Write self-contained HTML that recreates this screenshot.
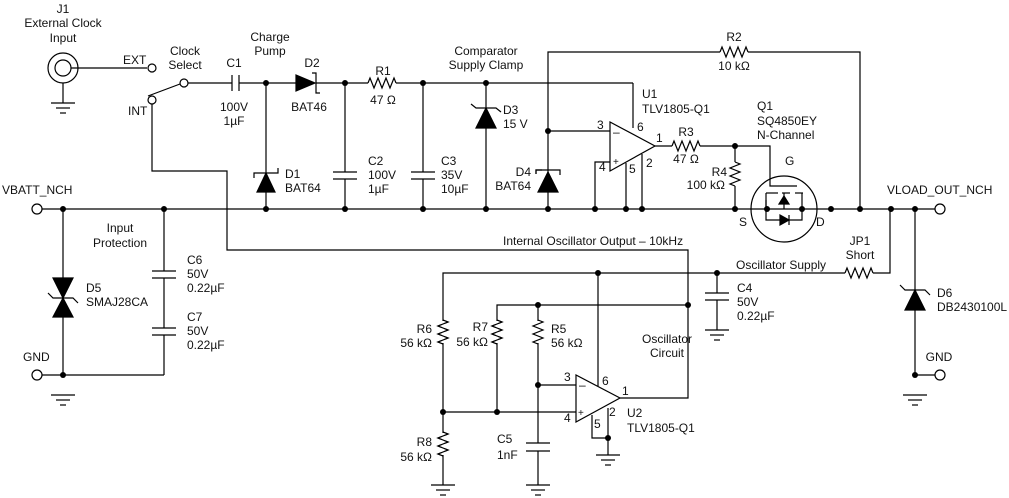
<!DOCTYPE html>
<html><head><meta charset="utf-8"><style>
html,body{margin:0;padding:0;background:#fff}
svg{display:block}
text{font-family:"Liberation Sans",Arial,sans-serif;font-size:12px;fill:#111}
.m{text-anchor:middle}.e{text-anchor:end}
</style></head><body>
<svg width="1009" height="498" viewBox="0 0 1009 498" xmlns="http://www.w3.org/2000/svg">
<defs>
<g id="gnd" stroke="#000" stroke-width="1.2"><line x1="-12" y1="0" x2="12" y2="0"/><line x1="-7" y1="5" x2="7" y2="5"/><line x1="-3" y1="10" x2="3" y2="10"/></g>
</defs>
<g stroke="#000" stroke-width="1.2" fill="none">
<!-- main bus -->
<line x1="42" y1="209" x2="935" y2="209"/>
<circle cx="37" cy="209" r="5" fill="#fff"/>
<circle cx="940" cy="209" r="5" fill="#fff"/>
<!-- J1 -->
<circle cx="63" cy="68" r="15"/><circle cx="63" cy="68" r="8"/>
<line x1="71" y1="68" x2="147" y2="68"/>
<circle cx="152" cy="68" r="4" fill="#fff"/>
<line x1="63" y1="83" x2="63" y2="103"/>
<!-- switch -->
<circle cx="152" cy="100" r="4" fill="#fff"/>
<circle cx="184" cy="83" r="4" fill="#fff"/>
<line x1="148" y1="96" x2="180" y2="84"/>
<!-- top line -->
<line x1="188" y1="83" x2="232" y2="83"/>
<line x1="232" y1="75" x2="232" y2="91"/><line x1="239" y1="75" x2="239" y2="91"/>
<line x1="239" y1="83" x2="296" y2="83"/>
<line x1="316" y1="83" x2="368" y2="83"/>
<polyline points="368,83 370,78 374,88 378,78 382,88 386,78 390,88 394,78 396,83"/>
<line x1="396" y1="83" x2="633" y2="83"/>
<line x1="633" y1="83" x2="633" y2="128"/>
<!-- D2 -->
<polygon points="296,75 296,91 315,83" fill="#000"/>
<polyline points="312,73 316,73 316,93 320,93"/>
<!-- D1 -->
<line x1="266" y1="83" x2="266" y2="209"/>
<polygon points="257,192 275,192 266,173" fill="#000"/>
<polyline points="254,178 254,173 278,173 278,168"/>
<!-- C2 C3 -->
<line x1="345" y1="83" x2="345" y2="172"/><line x1="345" y1="179" x2="345" y2="209"/>
<line x1="333" y1="172" x2="357" y2="172"/><line x1="333" y1="179" x2="357" y2="179"/>
<line x1="423" y1="83" x2="423" y2="172"/><line x1="423" y1="179" x2="423" y2="209"/>
<line x1="411" y1="172" x2="435" y2="172"/><line x1="411" y1="179" x2="435" y2="179"/>
<!-- D3 -->
<line x1="486" y1="83" x2="486" y2="209"/>
<polygon points="476,128 496,128 486,108" fill="#000"/>
<polyline points="471,104 476,108 496,108 501,112"/>
<!-- R2 / D4 -->
<polyline points="548,209 548,52 720,52"/>
<polyline points="720,52 722,47 726,57 730,47 734,57 738,47 742,57 746,47 748,52"/>
<polyline points="748,52 860,52 860,209"/>
<line x1="548" y1="131" x2="610" y2="131"/>
<polygon points="538,192 558,192 548,172" fill="#000"/>
<polyline points="536,174 536,170 542,170 M0,0"/>
<polyline points="536,174 536,170 548,170 560,170 560,175"/>
<!-- U1 -->
<polygon points="610,122 610,171 655,146"/>
<polyline points="610,162 595,162 595,209"/>
<line x1="626" y1="163" x2="626" y2="209"/>
<line x1="642" y1="154" x2="642" y2="209"/>
<line x1="655" y1="146" x2="672" y2="146"/>
<polyline points="672,146 674,141 678,151 682,141 686,151 690,141 694,151 698,141 700,146"/>
<polyline points="700,146 770,146 770,186 797,186"/>
<line x1="735" y1="146" x2="735" y2="162"/>
<polyline points="735,162 740,164 730,168 740,172 730,176 740,180 730,184 735,186"/>
<line x1="735" y1="186" x2="735" y2="209"/>
<!-- Q1 -->
<circle cx="784" cy="209" r="33"/>
<polyline points="766,209 766,200 m0,0"/>
<line x1="766" y1="193" x2="766" y2="209"/>
<line x1="766" y1="193" x2="778" y2="193"/><line x1="782" y1="193" x2="790" y2="193"/><line x1="795" y1="193" x2="803" y2="193"/>
<line x1="802" y1="193" x2="802" y2="209"/>
<line x1="784" y1="193" x2="784" y2="209"/>
<polygon points="779,204 789,204 784,196" fill="#000"/>
<polyline points="766,209 766,220 802,220 802,209"/>
<polygon points="780,215 780,225 789,220" fill="#000"/>
<line x1="789" y1="215" x2="789" y2="225"/>
<!-- osc output -->
<polyline points="152,104 152,171 227,171 227,250 688,250 688,398 620,398"/>
<!-- osc supply -->
<polyline points="443,412 443,273 845,273"/>
<polyline points="845,273 847,268 851,278 855,268 859,278 863,268 867,278 871,268 873,273"/>
<polyline points="873,273 890,273 890,209"/>
<!-- C4 -->
<line x1="717" y1="273" x2="717" y2="293"/><line x1="705" y1="293" x2="729" y2="293"/>
<line x1="705" y1="300" x2="729" y2="300"/><line x1="717" y1="300" x2="717" y2="330"/>
<!-- D6 -->
<line x1="915" y1="209" x2="915" y2="375"/>
<polygon points="905,310 925,310 915,290" fill="#000"/>
<polyline points="900,285 905,290 925,290 930,295"/>
<line x1="915" y1="375" x2="935" y2="375"/>
<circle cx="940" cy="375" r="5" fill="#fff"/>
<!-- D5 -->
<line x1="63" y1="209" x2="63" y2="375"/>
<polygon points="53,278 73,278 63,298" fill="#000"/>
<polygon points="53,317 73,317 63,298" fill="#000"/>
<polyline points="48,293 53,298 73,298 78,303"/>
<line x1="42" y1="375" x2="164" y2="375"/>
<circle cx="37" cy="375" r="5" fill="#fff"/>
<!-- C6 C7 -->
<line x1="164" y1="209" x2="164" y2="271"/>
<line x1="152" y1="271" x2="176" y2="271"/><line x1="152" y1="278" x2="176" y2="278"/>
<line x1="164" y1="278" x2="164" y2="328"/>
<line x1="152" y1="328" x2="176" y2="328"/><line x1="152" y1="335" x2="176" y2="335"/>
<line x1="164" y1="335" x2="164" y2="375"/>
<!-- U2 -->
<polygon points="576,375 576,422 620,398"/>
<line x1="598" y1="273" x2="598" y2="386"/>
<polyline points="592,415 592,438 608,438 608,455"/>
<line x1="608" y1="408" x2="608" y2="438"/>
<line x1="443" y1="412" x2="576" y2="412"/>
<line x1="538" y1="385" x2="576" y2="385"/>
<polyline points="497,412 497,305 688,305"/>
<!-- R6 -->
<polyline points="443,320 448,322 438,326 448,330 438,334 448,338 438,342 443,344"/>
<!-- R7 -->
<polyline points="497,320 502,322 492,326 502,330 492,334 502,338 492,342 497,344"/>
<!-- R5 -->
<line x1="538" y1="305" x2="538" y2="443"/>
<!-- R8 -->
<line x1="443" y1="412" x2="443" y2="485"/>
<polyline points="443,432 448,434 438,438 448,442 438,446 448,450 438,454 443,456"/>
<!-- C5 -->
<line x1="526" y1="443" x2="550" y2="443"/><line x1="526" y1="451" x2="550" y2="451"/>
<line x1="538" y1="451" x2="538" y2="485"/>
</g>
<!-- white cover for zigzag regions on straight lines -->
<g stroke="#fff" stroke-width="3"><line x1="443" y1="321" x2="443" y2="343"/><line x1="497" y1="321" x2="497" y2="343"/><line x1="538" y1="321" x2="538" y2="343"/><line x1="443" y1="433" x2="443" y2="455"/></g>
<g stroke="#000" stroke-width="1.2" fill="none">
<polyline points="443,320 448,322 438,326 448,330 438,334 448,338 438,342 443,344"/>
<polyline points="497,320 502,322 492,326 502,330 492,334 502,338 492,342 497,344"/>
<polyline points="538,320 543,322 533,326 543,330 533,334 543,338 533,342 538,344"/>
<polyline points="443,432 448,434 438,438 448,442 438,446 448,450 438,454 443,456"/>
</g>
<!-- grounds -->
<use href="#gnd" x="63" y="103"/>
<use href="#gnd" x="63" y="395"/>
<use href="#gnd" x="915" y="395"/>
<use href="#gnd" x="717" y="330"/>
<use href="#gnd" x="608" y="455"/>
<use href="#gnd" x="443" y="485"/>
<use href="#gnd" x="538" y="485"/>
<!-- dots -->
<g fill="#000">
<circle cx="63" cy="209" r="3"/><circle cx="164" cy="209" r="3"/><circle cx="266" cy="209" r="3"/><circle cx="345" cy="209" r="3"/><circle cx="423" cy="209" r="3"/><circle cx="486" cy="209" r="3"/><circle cx="548" cy="209" r="3"/><circle cx="595" cy="209" r="3"/><circle cx="626" cy="209" r="3"/><circle cx="642" cy="209" r="3"/><circle cx="735" cy="209" r="3"/><circle cx="767" cy="209" r="3"/><circle cx="802" cy="209" r="3"/><circle cx="831" cy="209" r="3"/><circle cx="860" cy="209" r="3"/><circle cx="891" cy="209" r="3"/><circle cx="915" cy="209" r="3"/>
<circle cx="266" cy="83" r="3"/><circle cx="345" cy="83" r="3"/><circle cx="423" cy="83" r="3"/><circle cx="486" cy="83" r="3"/>
<circle cx="548" cy="131" r="3"/><circle cx="735" cy="146" r="3"/>
<circle cx="598" cy="273" r="3"/><circle cx="717" cy="273" r="3"/><circle cx="538" cy="305" r="3"/><circle cx="688" cy="305" r="3"/>
<circle cx="538" cy="385" r="3"/><circle cx="443" cy="412" r="3"/><circle cx="497" cy="412" r="3"/><circle cx="608" cy="438" r="3"/>
<circle cx="63" cy="375" r="3"/><circle cx="915" cy="375" r="3"/>
</g>
<!-- labels -->
<text class="m" x="63" y="13">J1</text><text class="m" x="63" y="27">External Clock</text><text class="m" x="63" y="42">Input</text>
<text x="123" y="64">EXT</text><text x="128" y="115">INT</text>
<text class="m" x="185" y="55">Clock</text><text class="m" x="185" y="69">Select</text>
<text class="m" x="270" y="41">Charge</text><text class="m" x="270" y="55">Pump</text>
<text class="m" x="234" y="67">C1</text><text class="m" x="234" y="111">100V</text><text class="m" x="234" y="125">1µF</text>
<text class="m" x="312" y="67">D2</text><text class="m" x="309" y="111">BAT46</text>
<text class="m" x="383" y="75">R1</text><text class="m" x="383" y="104">47 Ω</text>
<text class="m" x="486" y="55">Comparator</text><text class="m" x="486" y="69">Supply Clamp</text>
<text x="503" y="114">D3</text><text x="503" y="128">15 V</text>
<text x="285" y="178">D1</text><text x="285" y="192">BAT64</text>
<text x="368" y="165">C2</text><text x="368" y="179">100V</text><text x="368" y="193">1µF</text>
<text x="441" y="165">C3</text><text x="441" y="179">35V</text><text x="441" y="193">10µF</text>
<text class="e" x="531" y="176">D4</text><text class="e" x="531" y="190">BAT64</text>
<text x="642" y="98">U1</text><text x="642" y="113">TLV1805-Q1</text>
<text class="m" x="734" y="41">R2</text><text class="m" x="734" y="70">10 kΩ</text>
<text x="597" y="129">3</text><text x="637" y="131">6</text><text x="656" y="142">1</text><text x="646" y="167">2</text><text x="599" y="171">4</text><text x="629" y="173">5</text>
<text x="613" y="136">–</text><text x="613" y="165" style="font-size:10px">+</text>
<text class="m" x="686" y="136">R3</text><text class="m" x="686" y="163">47 Ω</text>
<text class="e" x="727" y="176">R4</text><text class="e" x="725" y="189">100 kΩ</text>
<text x="757" y="110">Q1</text><text x="757" y="125">SQ4850EY</text><text x="757" y="139">N-Channel</text>
<text x="785" y="165">G</text><text x="739" y="226">S</text><text x="816" y="226">D</text>
<text x="2" y="194">VBATT_NCH</text><text x="887" y="194">VLOAD_OUT_NCH</text>
<text class="m" x="120" y="232">Input</text><text class="m" x="120" y="247">Protection</text>
<text x="503" y="245">Internal Oscillator Output – 10kHz</text>
<text class="m" x="860" y="245">JP1</text><text class="m" x="860" y="259">Short</text>
<text x="736" y="269">Oscillator Supply</text>
<text x="737" y="292">C4</text><text x="737" y="306">50V</text><text x="737" y="320">0.22µF</text>
<text x="937" y="297">D6</text><text x="937" y="311">DB2430100L</text>
<text class="m" x="939" y="361">GND</text><text x="23" y="361">GND</text>
<text x="187" y="264">C6</text><text x="187" y="278">50V</text><text x="187" y="292">0.22µF</text>
<text x="86" y="292">D5</text><text x="86" y="306">SMAJ28CA</text>
<text x="187" y="321">C7</text><text x="187" y="335">50V</text><text x="187" y="349">0.22µF</text>
<text class="e" x="432" y="333">R6</text><text class="e" x="432" y="347">56 kΩ</text>
<text class="e" x="488" y="331">R7</text><text class="e" x="488" y="346">56 kΩ</text>
<text x="551" y="333">R5</text><text x="551" y="347">56 kΩ</text>
<text class="m" x="667" y="343">Oscillator</text><text class="m" x="667" y="357">Circuit</text>
<text x="564" y="381">3</text><text x="602" y="385">6</text><text x="622" y="395">1</text><text x="609" y="416">2</text><text x="564" y="422">4</text><text x="594" y="428">5</text>
<text x="579" y="389">–</text><text x="578" y="416" style="font-size:10px">+</text>
<text x="627" y="417">U2</text><text x="627" y="432">TLV1805-Q1</text>
<text class="e" x="432" y="446">R8</text><text class="e" x="432" y="461">56 kΩ</text>
<text x="497" y="443">C5</text><text x="497" y="459">1nF</text>
</g>
</svg>
</body></html>
